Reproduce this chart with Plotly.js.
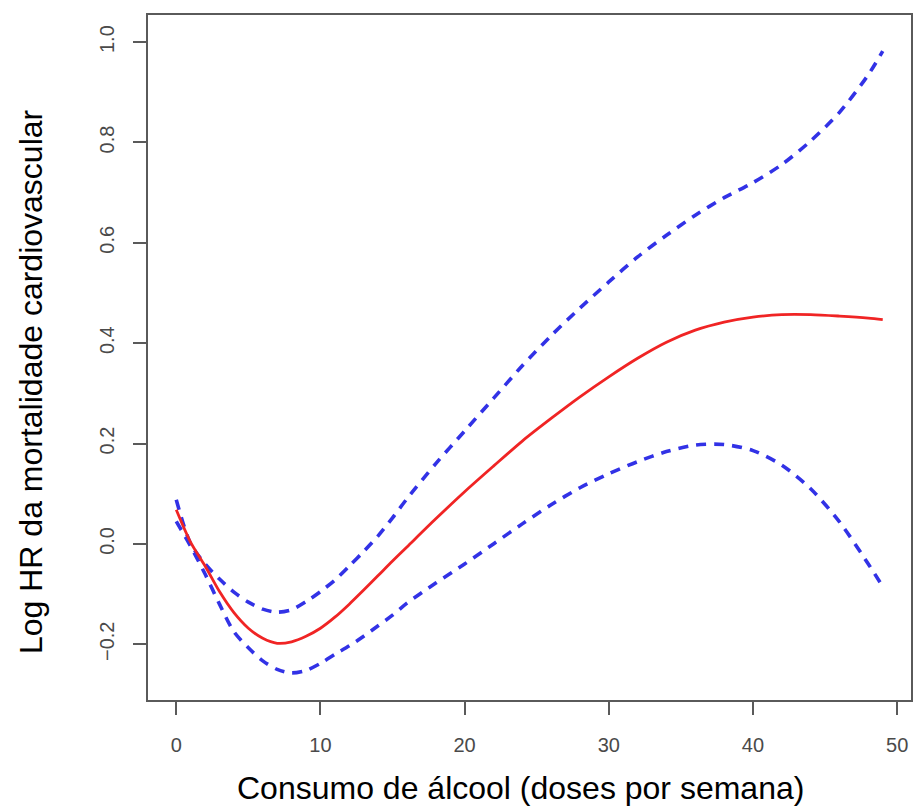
<!DOCTYPE html>
<html>
<head>
<meta charset="utf-8">
<script src="https://cdn.plot.ly/plotly-3.0.1.min.js"></script>
<style>html,body{margin:0;padding:0;background:#fff;}#chart{width:914px;height:812px;}</style>
</head>
<body>
<div id="chart"></div>
<script>
// Alcohol consumption (doses per week)
const doses = [0,1,2,3,4,5,6,7,8,9,10,11,12,13,14,15,16,18,20,22,24,26,28,30,32,34,36,38,40,42,44,46,48,49];
// Log HR estimate (red solid)
const logHR = [0.068,0.003,-0.044,-0.095,-0.137,-0.168,-0.188,-0.198,-0.195,-0.184,-0.168,-0.146,-0.12,-0.092,-0.063,-0.034,-0.006,0.05,0.104,0.155,0.205,0.25,0.293,0.333,0.37,0.402,0.426,0.442,0.452,0.457,0.457,0.454,0.45,0.447];
// Upper confidence bound (blue dashed)
const upperCI = [0.088,0.0,-0.04,-0.07,-0.096,-0.116,-0.13,-0.136,-0.131,-0.115,-0.095,-0.072,-0.044,-0.015,0.016,0.052,0.09,0.16,0.225,0.29,0.355,0.415,0.47,0.522,0.572,0.615,0.655,0.69,0.72,0.756,0.803,0.86,0.935,0.982];
// Lower confidence bound (blue dashed)
const lowerCI = [0.045,-0.005,-0.06,-0.12,-0.175,-0.207,-0.233,-0.25,-0.257,-0.252,-0.238,-0.22,-0.203,-0.184,-0.163,-0.142,-0.118,-0.078,-0.04,0.0,0.04,0.078,0.112,0.14,0.164,0.184,0.197,0.198,0.186,0.157,0.11,0.044,-0.04,-0.085];

const xTicks = [0,10,20,30,40,50];
const yTicks = [-0.2,0.0,0.2,0.4,0.6,0.8,1.0];
const yTickText = ['\u22120.2','0.0','0.2','0.4','0.6','0.8','1.0'];
const xTitle = 'Consumo de álcool (doses por semana)';
const yTitle = 'Log HR da mortalidade cardiovascular';

const blue = '#3232e6';
const red = '#f02424';
const traces = [
  {x: doses, y: upperCI, mode: 'lines', line: {color: blue, width: 3.6, dash: '10px,8px', shape: 'spline', smoothing: 0.8}, hoverinfo: 'skip'},
  {x: doses, y: lowerCI, mode: 'lines', line: {color: blue, width: 3.6, dash: '10px,8px', shape: 'spline', smoothing: 0.8}, hoverinfo: 'skip'},
  {x: doses, y: logHR, mode: 'lines', line: {color: red, width: 2.8, shape: 'spline', smoothing: 0.8}, hoverinfo: 'skip'}
];

const axisCommon = {
  showline: true, mirror: true, linecolor: '#5a5a5a', linewidth: 2,
  ticks: 'outside', ticklen: 13, tickwidth: 2, tickcolor: '#5a5a5a',
  showgrid: false, zeroline: false,
  tickfont: {family: 'Liberation Sans, Arial, sans-serif', size: 20, color: '#4a4a4a'}
};

const layout = {
  width: 914, height: 812,
  margin: {l: 148, r: 3, t: 15, b: 112},
  paper_bgcolor: '#ffffff', plot_bgcolor: '#ffffff',
  showlegend: false,
  font: {family: 'Liberation Sans, Arial, sans-serif'},
  xaxis: Object.assign({}, axisCommon, {range: [-1.96, 50.96], tickvals: xTicks, ticktext: xTicks.map(String), ticklabelstandoff: 13}),
  yaxis: Object.assign({}, axisCommon, {range: [-0.311, 1.054], tickvals: yTicks, ticktext: yTickText, tickangle: -90, ticklabelstandoff: 11}),
  annotations: [
    {text: xTitle, xref: 'paper', yref: 'paper', x: 0.4876, y: -0.129, xanchor: 'center', yanchor: 'middle', showarrow: false,
     font: {family: 'Liberation Sans, Arial, sans-serif', size: 32, color: '#000'}},
    {text: yTitle, xref: 'paper', yref: 'paper', x: -0.1533, y: 0.4642, xanchor: 'center', yanchor: 'middle', textangle: -90, showarrow: false,
     font: {family: 'Liberation Sans, Arial, sans-serif', size: 32, color: '#000'}}
  ]
};

Plotly.newPlot('chart', traces, layout, {staticPlot: true, displayModeBar: false});
</script>
</body>
</html>
